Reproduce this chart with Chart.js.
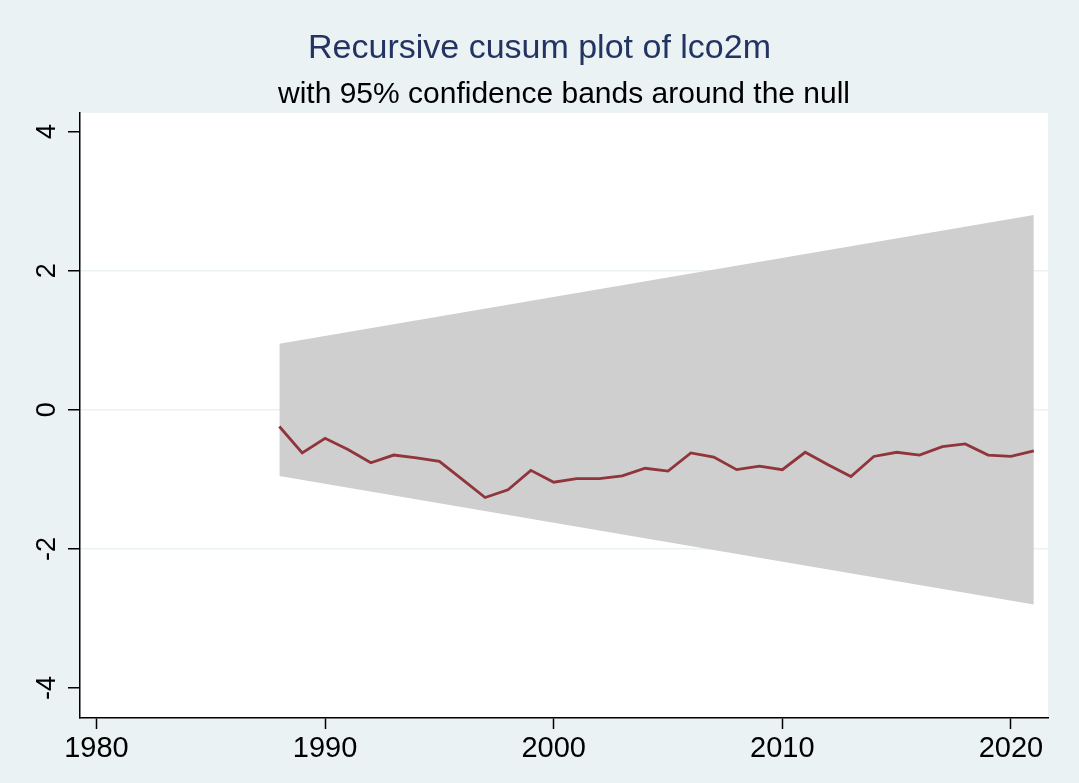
<!DOCTYPE html>
<html>
<head>
<meta charset="utf-8">
<script src="https://cdn.jsdelivr.net/npm/chart.js@4/dist/chart.umd.min.js"></script>
<style>
  html, body { margin: 0; padding: 0; background: #eaf2f3; }
  #wrap { width: 1079px; height: 783px; }
</style>
</head>
<body>
<div id="wrap"><canvas id="cusum"></canvas></div>
<script>
// recursive cusum values
const years = [1988, 1989, 1990, 1991, 1992, 1993, 1994, 1995, 1996, 1997, 1998,
  1999, 2000, 2001, 2002, 2003, 2004, 2005, 2006, 2007, 2008, 2009, 2010,
  2011, 2012, 2013, 2014, 2015, 2016, 2017, 2018, 2019, 2020, 2021];
const cusum = [-0.24, -0.62, -0.41, -0.57, -0.76, -0.65, -0.69, -0.74, -1.0, -1.26, -1.15,
  -0.87, -1.04, -0.99, -0.99, -0.95, -0.84, -0.88, -0.62, -0.68, -0.86, -0.81, -0.86,
  -0.61, -0.79, -0.96, -0.67, -0.61, -0.65, -0.53, -0.49, -0.65, -0.67, -0.59];

// confidence band end points (band is straight between them)
const bandYears = [1988, 2021];
const bandUpper = [0.95, 2.80];
const bandLower = [-0.95, -2.80];

const xTicks = [1980, 1990, 2000, 2010, 2020];
const yTicks = [-4, -2, 0, 2, 4];
const yGridAt = [-2, 0, 2];

const bg = {
  id: 'bg',
  beforeDraw(chart) {
    const { ctx, chartArea: a } = chart;
    ctx.save();
    ctx.fillStyle = '#eaf2f3';
    ctx.fillRect(0, 0, chart.width, chart.height);
    ctx.fillStyle = '#ffffff';
    ctx.fillRect(a.left, a.top, a.right - a.left, a.bottom - a.top);
    ctx.restore();
  }
};

new Chart(document.getElementById('cusum'), {
  type: 'line',
  data: {
    datasets: [
      {
        label: 'CUSUM',
        data: years.map((y, i) => ({ x: y, y: cusum[i] })),
        borderColor: '#90353b',
        borderWidth: 2.8,
        pointRadius: 0,
        tension: 0,
        fill: false,
        order: 0
      },
      {
        label: 'upper',
        data: bandYears.map((y, i) => ({ x: y, y: bandUpper[i] })),
        borderWidth: 0,
        pointRadius: 0,
        backgroundColor: '#cfcfcf',
        fill: '+1',
        order: 1
      },
      {
        label: 'lower',
        data: bandYears.map((y, i) => ({ x: y, y: bandLower[i] })),
        borderWidth: 0,
        pointRadius: 0,
        fill: false,
        order: 2
      }
    ]
  },
  options: {
    responsive: true,
    maintainAspectRatio: false,
    devicePixelRatio: 1,
    animation: false,
    layout: { padding: 0 },
    plugins: {
      legend: { display: false },
      tooltip: { enabled: false },
      title: {
        display: true,
        text: 'Recursive cusum plot of lco2m',
        color: '#233463',
        font: { family: 'Liberation Sans', size: 34, weight: 'normal' },
        padding: { top: 28, bottom: 8 }
      },
      subtitle: {
        display: true,
        fullSize: false,
        text: 'with 95% confidence bands around the null',
        color: '#000000',
        font: { family: 'Liberation Sans', size: 30, weight: 'normal' },
        padding: { top: 0, bottom: 0 }
      }
    },
    scales: {
      x: {
        type: 'linear',
        min: 1979.28,
        max: 2021.62,
        afterBuildTicks: s => { s.ticks = xTicks.map(v => ({ value: v })); },
        afterFit: s => { s.height = 65; },
        border: { color: '#000000', width: 1.5 },
        grid: { drawOnChartArea: false, tickColor: '#000000', tickLength: 11, tickWidth: 1.5 },
        ticks: {
          color: '#000000',
          font: { family: 'Liberation Sans', size: 29 },
          padding: 3,
          maxRotation: 0,
          callback: v => String(v)
        }
      },
      y: {
        min: -4.43,
        max: 4.27,
        afterBuildTicks: s => { s.ticks = yTicks.map(v => ({ value: v })); },
        afterFit: s => { s.width = 80; },
        border: { color: '#000000', width: 1.5 },
        grid: {
          color: c => (c.tick && yGridAt.includes(c.tick.value)) ? '#eaf2f3' : 'rgba(0,0,0,0)',
          lineWidth: 1.5,
          tickColor: '#000000',
          tickLength: 12,
          tickWidth: 1.5
        },
        ticks: {
          color: '#000000',
          font: { family: 'Liberation Sans', size: 27 },
          padding: 8,
          crossAlign: 'center',
          minRotation: 90,
          maxRotation: 90,
          callback: v => String(v)
        }
      },
      // empty right margin so the main title centres on the whole canvas
      yRight: {
        position: 'right',
        display: true,
        afterFit: s => { s.width = 31; },
        border: { display: false },
        grid: { display: false },
        ticks: { display: false }
      }
    }
  },
  plugins: [bg]
});
</script>
</body>
</html>
